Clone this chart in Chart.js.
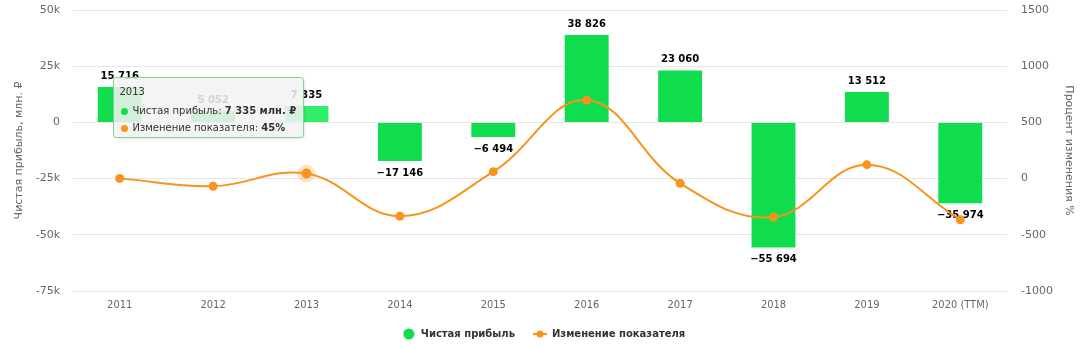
<!DOCTYPE html>
<html lang="ru">
<head>
<meta charset="utf-8">
<title>Чистая прибыль</title>
<script src="https://cdn.jsdelivr.net/npm/chart.js@4.4.1/dist/chart.umd.min.js"></script>
<style>
  html, body { margin: 0; padding: 0; background: #fff; }
  #wrap { width: 1087px; height: 349px; }
</style>
</head>
<body>
<div id="wrap"><canvas id="chart" width="1087" height="349"></canvas></div>
<script>
// данные
const years = ['2011', '2012', '2013', '2014', '2015', '2016', '2017', '2018', '2019', '2020 (TTM)'];
const chistayaPribyl = [15716, 5052, 7335, -17146, -6494, 38826, 23060, -55694, 13512, -35974];
const izmenenie = [2, -68, 45, -334, 62, 698, -41, -342, 124, -366];
const activeIndex = 2; // выделенный год (подсказка)

const GREEN = '#0fdd4d';
const GREEN_HOVER = '#30ef6c';
const ORANGE = '#f7931e';
const FONT = '"DejaVu Sans", Verdana, sans-serif';
const NONE = 'rgba(0,0,0,0)';

function fmt(v) {
  const s = Math.abs(v).toString().replace(/\B(?=(\d{3})+(?!\d))/g, ' ');
  return (v < 0 ? '\u2212' : '') + s;
}

// значки для легенды
function makeDot() {
  const c = document.createElement('canvas');
  c.width = 12; c.height = 12;
  const g = c.getContext('2d');
  g.fillStyle = GREEN;
  g.beginPath(); g.arc(6, 6, 5.5, 0, Math.PI * 2); g.fill();
  return c;
}
function makeLineIcon() {
  const c = document.createElement('canvas');
  c.width = 16; c.height = 10;
  const g = c.getContext('2d');
  g.strokeStyle = ORANGE; g.lineWidth = 2;
  g.beginPath(); g.moveTo(1, 5); g.lineTo(15, 5); g.stroke();
  g.fillStyle = ORANGE;
  g.beginPath(); g.arc(8, 5, 3.5, 0, Math.PI * 2); g.fill();
  return c;
}
const dotIcon = makeDot();
const lineIcon = makeLineIcon();

// подписи значений над/под столбцами
const barValues = {
  id: 'barValues',
  afterDatasetDraw(chart, args) {
    if (args.index !== 0) return;
    const ctx = chart.ctx;
    ctx.save();
    ctx.font = 'bold 10px ' + FONT;
    ctx.fillStyle = '#000';
    ctx.textAlign = 'center';
    ctx.textBaseline = 'middle';
    args.meta.data.forEach((bar, i) => {
      const v = chistayaPribyl[i];
      const y = v >= 0 ? bar.y - 11 : bar.y + 12;
      ctx.fillText(fmt(v), bar.x, y);
    });
    ctx.restore();
  }
};

// всплывающая подсказка для выбранного года
const hoverBox = {
  id: 'hoverBox',
  afterDraw(chart) {
    const ctx = chart.ctx;
    const i = activeIndex;
    const xPix = chart.scales.x.getPixelForValue(i);
    const yPix = chart.scales.y.getPixelForValue(chistayaPribyl[i]);
    const w = 190, h = 60;
    const left = Math.round(xPix - 4 - w) + 0.5;
    const top = Math.round(yPix - 29) + 0.5;

    ctx.save();
    ctx.shadowColor = 'rgba(0,0,0,0.15)';
    ctx.shadowOffsetX = 1; ctx.shadowOffsetY = 1; ctx.shadowBlur = 3;
    ctx.beginPath();
    ctx.roundRect(left, top, w, h, 3);
    ctx.fillStyle = 'rgba(247,247,247,0.85)';
    ctx.fill();
    ctx.shadowColor = 'transparent';
    ctx.strokeStyle = '#7fd28f';
    ctx.lineWidth = 1;
    ctx.stroke();

    ctx.textBaseline = 'middle';
    ctx.textAlign = 'left';
    ctx.fillStyle = '#333';
    ctx.font = '10px ' + FONT;
    ctx.fillText(years[i], left + 6, top + 15);

    const rows = [
      { color: GREEN, label: 'Чистая прибыль: ', value: fmt(chistayaPribyl[i]) + ' млн. ₽', y: top + 34 },
      { color: ORANGE, label: 'Изменение показателя: ', value: izmenenie[i] + '%', y: top + 51 }
    ];
    rows.forEach(r => {
      ctx.fillStyle = r.color;
      ctx.beginPath(); ctx.arc(left + 11, r.y, 3.5, 0, Math.PI * 2); ctx.fill();
      ctx.fillStyle = '#333';
      ctx.font = '10px ' + FONT;
      ctx.fillText(r.label, left + 19, r.y);
      const lw = ctx.measureText(r.label).width;
      ctx.font = 'bold 10px ' + FONT;
      ctx.fillText(r.value, left + 19 + lw, r.y);
    });
    ctx.restore();
  }
};

new Chart(document.getElementById('chart'), {
  data: {
    labels: years,
    datasets: [
      {
        type: 'bar',
        label: 'Чистая прибыль',
        data: chistayaPribyl,
        yAxisID: 'y',
        backgroundColor: chistayaPribyl.map((v, i) => i === activeIndex ? GREEN_HOVER : GREEN),
        borderWidth: 0,
        categoryPercentage: 1,
        barPercentage: 0.47,
        order: 2
      },
      {
        type: 'line',
        label: 'Изменение показателя',
        data: izmenenie,
        yAxisID: 'y1',
        borderColor: ORANGE,
        borderWidth: 2,
        backgroundColor: ORANGE,
        tension: 0.4,
        pointRadius: izmenenie.map((v, i) => i === activeIndex ? 5 : 4.5),
        pointBorderWidth: izmenenie.map((v, i) => i === activeIndex ? 8 : 0),
        pointBorderColor: izmenenie.map((v, i) => i === activeIndex ? 'rgba(247,147,30,0.25)' : ORANGE),
        pointBackgroundColor: ORANGE,
        order: 1
      }
    ]
  },
  options: {
    responsive: false,
    animation: false,
    layout: { padding: { top: 10, left: 0, right: 0, bottom: 0 } },
    plugins: {
      tooltip: { enabled: false },
      legend: {
        position: 'bottom',
        labels: {
          usePointStyle: true,
          pointStyleWidth: 14,
          boxHeight: 10,
          padding: 18,
          color: '#333',
          font: { family: FONT, size: 10, weight: 'bold' },
          generateLabels: () => [
            { text: 'Чистая прибыль', pointStyle: dotIcon, fillStyle: GREEN, strokeStyle: GREEN, lineWidth: 0, hidden: false, datasetIndex: 0, fontColor: '#333' },
            { text: 'Изменение показателя', pointStyle: lineIcon, fillStyle: ORANGE, strokeStyle: ORANGE, lineWidth: 0, hidden: false, datasetIndex: 1, fontColor: '#333' }
          ]
        }
      }
    },
    scales: {
      x: {
        grid: { display: false },
        border: { display: false },
        ticks: {
          color: '#666',
          padding: 0,
          maxRotation: 0,
          autoSkip: false,
          font: { family: '"DejaVu Sans Condensed", "DejaVu Sans", sans-serif', size: 11 }
        },
        afterFit: s => { s.height = 20; }
      },
      y: {
        position: 'left',
        min: -75000,
        max: 50000,
        // невидимые засечки дают отступ подписей от сетки
        grid: { color: '#e6e6e6', drawTicks: true, tickLength: 13, tickColor: NONE },
        border: { display: false },
        ticks: {
          stepSize: 25000,
          color: '#666',
          padding: 0,
          font: { family: FONT, size: 11 },
          callback: v => v === 0 ? '0' : (v / 1000) + 'k'
        },
        title: {
          display: true,
          text: 'Чистая прибыль, млн. ₽',
          color: '#666',
          font: { family: FONT, size: 11 },
          padding: { top: 13, bottom: 0 }
        },
        afterFit: s => { s.width = 73; }
      },
      y1: {
        position: 'right',
        min: -1000,
        max: 1500,
        grid: { drawOnChartArea: false, drawTicks: true, tickLength: 14, tickColor: NONE, color: NONE },
        border: { display: false },
        ticks: {
          stepSize: 500,
          color: '#666',
          padding: 0,
          font: { family: FONT, size: 11 },
          callback: v => String(v)
        },
        title: {
          display: true,
          text: 'Процент изменения %',
          color: '#666',
          font: { family: FONT, size: 11 },
          padding: { top: 12, bottom: 0 }
        },
        afterFit: s => { s.width = 80; }
      }
    }
  },
  plugins: [barValues, hoverBox]
});
</script>
</body>
</html>
